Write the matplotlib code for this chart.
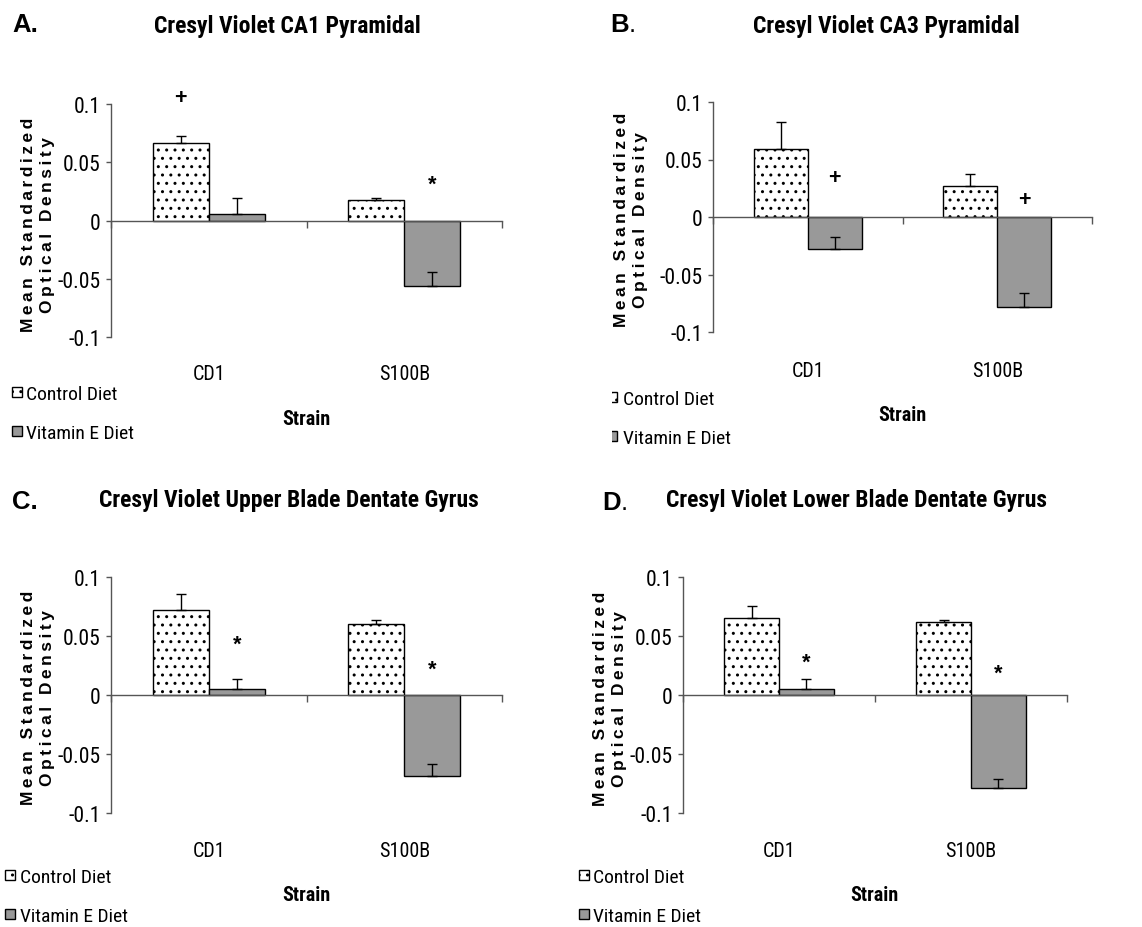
import numpy as np
import matplotlib
matplotlib.use("Agg")
import matplotlib.pyplot as plt
from matplotlib import font_manager as fm
from matplotlib.patches import Rectangle
from matplotlib.transforms import Bbox, blended_transform_factory, offset_copy

# ---------------- data ----------------
strains = ["CD1", "S100B"]
series_names = ["Control Diet", "Vitamin E Diet"]
y_ticks = [-0.1, -0.05, 0, 0.05, 0.1]
y_tick_labels = ["-0.1", "-0.05", "0", "0.05", "0.1"]

ca1_control = [0.0665, 0.0172]
ca1_control_err = [0.0063, 0.0017]
ca1_vite = [0.0052, -0.0562]
ca1_vite_err = [0.0137, 0.0121]

ca3_control = [0.0595, 0.0273]
ca3_control_err = [0.0235, 0.0103]
ca3_vite = [-0.0276, -0.0782]
ca3_vite_err = [0.0104, 0.0118]

upper_control = [0.0718, 0.0603]
upper_control_err = [0.0136, 0.0031]
upper_vite = [0.0051, -0.0685]
upper_vite_err = [0.0084, 0.0102]

lower_control = [0.0654, 0.0620]
lower_control_err = [0.0101, 0.0014]
lower_vite = [0.0051, -0.0789]
lower_vite_err = [0.0084, 0.0074]

# significance marks: (symbol, series index, strain index, height)
ca1_marks = [("+", 0, 0, 0.107), ("*", 1, 1, 0.037)]
ca3_marks = [("+", 1, 0, 0.0362), ("+", 1, 1, 0.0167)]
upper_marks = [("*", 1, 0, 0.0487), ("*", 1, 1, 0.028)]
lower_marks = [("*", 1, 0, 0.0338), ("*", 1, 1, 0.0248)]

titles = ["Cresyl Violet CA1 Pyramidal", "Cresyl Violet CA3 Pyramidal",
          "Cresyl Violet Upper Blade Dentate Gyrus",
          "Cresyl Violet Lower Blade Dentate Gyrus"]
letters = ["A", "B", "C", "D"]

# ---------------- fonts ----------------
installed = {f.name for f in fm.fontManager.ttflist}


def pick(candidates):
    for c in candidates:
        if c in installed:
            return [c, "DejaVu Sans"]
    return ["DejaVu Sans"]


NARROW = pick(["Liberation Sans Narrow", "Arial Narrow", "Roboto Condensed", "Archivo Narrow",
               "PT Sans Narrow", "Fira Sans Condensed", "IBM Plex Sans Condensed",
               "Encode Sans Condensed", "Open Sans Condensed"])
WIDE = pick(["Liberation Sans", "Arimo", "Arial", "Roboto"])

# ---------------- layout (pixels) ----------------
W, H = 1142, 928
fig = plt.figure(figsize=(W / 100, H / 100), dpi=100)
GREY = "#999999"
AXC = "#555555"


def fx(px):
    return px / W


def fy(py):
    return 1 - py / H


def spaced(s):
    return "\u2009".join(s)


panels = [
    dict(box=(111, 105, 502, 338), data=(ca1_control, ca1_control_err, ca1_vite, ca1_vite_err),
         marks=ca1_marks, title_xy=(287, 33), letter_xy=(12, 32), period_bold=True,
         ylab_xy=(38, 225), cat_y=380, strain_xy=(306, 425),
         leg=dict(mx=12, tx=26, y=(393, 432), clip=None)),
    dict(box=(713, 103, 1092, 333), data=(ca3_control, ca3_control_err, ca3_vite, ca3_vite_err),
         marks=ca3_marks, title_xy=(886, 33), letter_xy=(610, 32), period_bold=False,
         ylab_xy=(631, 220), cat_y=377, strain_xy=(902, 421),
         leg=dict(mx=607, tx=623, y=(398, 437), clip=612)),
    dict(box=(111, 578, 502, 814), data=(upper_control, upper_control_err, upper_vite, upper_vite_err),
         marks=upper_marks, title_xy=(289, 507), letter_xy=(12, 509), period_bold=True,
         ylab_xy=(38, 698), cat_y=857, strain_xy=(306, 901),
         leg=dict(mx=5, tx=20, y=(876, 915), clip=None)),
    dict(box=(683, 578, 1067, 814), data=(lower_control, lower_control_err, lower_vite, lower_vite_err),
         marks=lower_marks, title_xy=(856, 507), letter_xy=(602, 510), period_bold=False,
         ylab_xy=(610, 699), cat_y=857, strain_xy=(874, 901),
         leg=dict(mx=579, tx=593, y=(876, 915), clip=None)),
]

x = np.arange(len(strains)) + 0.5
width = 0.286
glyph_center = {"+": 0.35, "*": 0.58}
mark_size = 15.5

for i, p in enumerate(panels):
    l, t, r, b = p["box"]
    ax = fig.add_axes([fx(l), fy(b), fx(r) - fx(l), fy(t) - fy(b)])
    ctrl, ctrl_err, vite, vite_err = p["data"]
    xs = [x - width / 2, x + width / 2]

    ax.bar(xs[0], ctrl, width, color="white", edgecolor="black", hatch="..", linewidth=1, zorder=2)
    ax.bar(xs[1], vite, width, color=GREY, edgecolor="black", linewidth=1, zorder=2)
    for xv, vals, errs in ((xs[0], ctrl, ctrl_err), (xs[1], vite, vite_err)):
        ax.errorbar(xv, vals, yerr=[np.zeros(len(errs)), errs], fmt="none",
                    ecolor="black", elinewidth=1, capsize=3.3, capthick=1, zorder=3)

    # significance symbols
    for sym, si, ki, yv in p["marks"]:
        shift = glyph_center[sym] * mark_size * 100 / 72
        tr = offset_copy(ax.transData, fig=fig, y=-shift, units="dots")
        ax.text(xs[si][ki], yv, sym, transform=tr, ha="center", va="baseline",
                fontsize=mark_size, fontweight="bold", family=WIDE, clip_on=False)

    ax.set_xlim(0, 2)
    ax.set_ylim(-0.1, 0.1)
    for s in ("top", "right"):
        ax.spines[s].set_visible(False)
    ax.spines["bottom"].set_position(("data", 0))
    ax.spines["bottom"].set_color(AXC)
    ax.spines["left"].set_color(AXC)
    ax.spines["bottom"].set_linewidth(1)
    ax.spines["left"].set_linewidth(1)
    ax.set_xticks([0, 1, 2])
    ax.set_xticklabels([])
    ax.tick_params(axis="x", direction="out", length=5, width=1, color=AXC)
    ax.set_yticks(y_ticks)
    ax.set_yticklabels(y_tick_labels, family=NARROW, fontsize=15.5)
    ax.tick_params(axis="y", direction="out", length=3.6, width=1, color=AXC, pad=4)
    ax.patch.set_visible(False)

    # category labels below the plot
    tr = blended_transform_factory(ax.transData, fig.transFigure)
    for xi, name in zip(x, strains):
        ax.text(xi, fy(p["cat_y"]), name, transform=tr, ha="center", va="baseline",
                family=NARROW, fontsize=14.5, clip_on=False)

    sx, sy = p["strain_xy"]
    fig.text(fx(sx), fy(sy), "Strain", ha="center", va="baseline", family=NARROW,
             fontsize=14.5, fontweight="bold")

    tx, ty = p["title_xy"]
    fig.text(fx(tx), fy(ty), titles[i], ha="center", va="baseline", family=NARROW,
             fontsize=17, fontweight="bold")

    lx, ly = p["letter_xy"]
    if p["period_bold"]:
        fig.text(fx(lx), fy(ly), letters[i] + ".", ha="left", va="baseline", family=WIDE,
                 fontsize=18.5, fontweight="bold")
    else:
        fig.text(fx(lx), fy(ly), letters[i], ha="left", va="baseline", family=WIDE,
                 fontsize=18.5, fontweight="bold")
        fig.text(fx(lx + 19), fy(ly), ".", ha="left", va="baseline", family=WIDE,
                 fontsize=18.5)

    yx, yy = p["ylab_xy"]
    fig.text(fx(yx), fy(yy), spaced("Mean Standardized") + "\n" + spaced("Optical Density"),
             rotation=90, ha="center", va="center", multialignment="center",
             family=WIDE, fontsize=12.5, fontweight="bold", linespacing=1.3)

    # legend
    lg = p["leg"]
    for name, yc, style in zip(series_names, lg["y"],
                               (dict(facecolor="white", hatch=".."), dict(facecolor=GREY))):
        rect = Rectangle((fx(lg["mx"]), fy(yc + 5)), 10 / W, 10 / H, transform=fig.transFigure,
                         edgecolor="black", linewidth=1, **style)
        fig.add_artist(rect)
        if lg["clip"] is not None:
            rect.set_clip_box(Bbox.from_extents(lg["clip"], 0, W, H))
            rect.set_clip_on(True)
        fig.text(fx(lg["tx"]), fy(yc + 7), name, ha="left", va="baseline", family=NARROW,
                 fontsize=14)

fig.savefig("out.png", dpi=100, facecolor="white")
